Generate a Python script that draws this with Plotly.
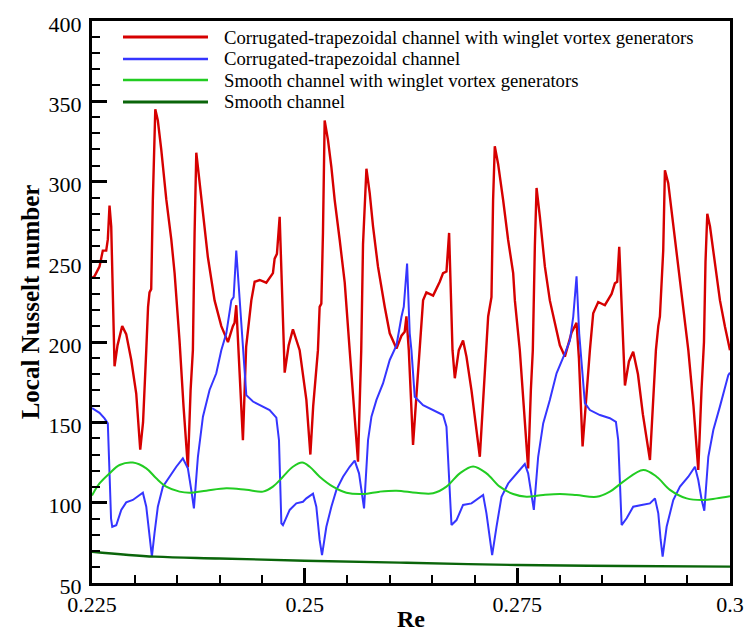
import plotly.graph_objects as go

# ---------------- data ----------------
series_names = [
    "Corrugated-trapezoidal channel with winglet vortex generators",
    "Corrugated-trapezoidal channel",
    "Smooth channel with winglet vortex generators",
    "Smooth channel",
]

re_corr_vg = [0.2250, 0.22529, 0.22588, 0.22627, 0.22667, 0.22686, 0.22706, 0.22726, 0.22765, 0.22800,
              0.22855, 0.22902, 0.22961, 0.23020, 0.23067, 0.23100, 0.23138, 0.23159, 0.23176, 0.23196,
              0.23215, 0.23244, 0.23274, 0.23314, 0.23373, 0.23432, 0.23471, 0.23529, 0.23576, 0.23627,
              0.23659, 0.23686, 0.23706, 0.23726, 0.23745, 0.23804, 0.23862, 0.23941, 0.24020, 0.24079,
              0.24098, 0.24156, 0.24176, 0.24196, 0.24224, 0.24274, 0.24312, 0.24373, 0.24412, 0.24471,
              0.24549, 0.24627, 0.24647, 0.24674, 0.24706, 0.24745, 0.24765, 0.24812, 0.24862, 0.24941,
              0.25020, 0.25067, 0.25100, 0.25156, 0.25176, 0.25196, 0.25215, 0.25235, 0.25274, 0.25314,
              0.25353, 0.25412, 0.25471, 0.25529, 0.25582, 0.25627, 0.25665, 0.25686, 0.25726, 0.25765,
              0.25804, 0.25862, 0.25941, 0.26000, 0.26079, 0.26138, 0.26176, 0.26196, 0.26224, 0.26274,
              0.26318, 0.26353, 0.26392, 0.26431, 0.26510, 0.26588, 0.26627, 0.26667, 0.26698, 0.26738,
              0.26765, 0.26812, 0.26862, 0.26902, 0.26961, 0.27020, 0.27059, 0.27094, 0.27129, 0.27157,
              0.27196, 0.27215, 0.27235, 0.27274, 0.27333, 0.27392, 0.27451, 0.27471, 0.27529, 0.27576,
              0.27627, 0.27659, 0.27682, 0.27706, 0.27726, 0.27765, 0.27824, 0.27882, 0.27961, 0.28000,
              0.28059, 0.28138, 0.28196, 0.28224, 0.28267, 0.28306, 0.28353, 0.28392, 0.28451, 0.28529,
              0.28608, 0.28647, 0.28674, 0.28698, 0.28745, 0.28765, 0.28812, 0.28862, 0.28918, 0.28976,
              0.29059, 0.29100, 0.29129, 0.29157, 0.29176, 0.29215, 0.29235, 0.29274, 0.29333, 0.29392,
              0.29451, 0.29510, 0.29571, 0.29627, 0.29665, 0.29694, 0.29712, 0.29733, 0.29765, 0.29824,
              0.29882, 0.29941, 0.29980, 0.30000]
nu_corr_vg = [240, 241, 247, 257, 257, 264, 285, 272, 185, 198,
              210, 205, 189, 168, 133, 150, 195, 222, 231, 233,
              288, 345, 338, 320, 289, 264, 243, 201, 160, 122,
              170, 195, 268, 318, 309, 282, 253, 226, 210, 202.5,
              200, 210, 212, 223, 195, 139, 197, 226, 237.6, 238.7,
              237, 243, 252, 255, 278, 214, 181, 198, 208, 195,
              164, 130, 160, 195, 222, 224, 268, 338, 326, 309,
              288.5, 263.6, 237, 195, 160, 125.5, 195, 261, 308, 292.6,
              272, 247, 222, 205.5, 196, 204, 206.5, 216, 195, 136,
              170, 195, 226, 231, 229, 237.6, 243, 244, 268, 195,
              177.5, 195, 201, 191, 170, 145, 128.6, 160, 195, 216,
              228, 288.5, 322, 311, 288.5, 263.6, 243, 226, 195, 160,
              121.4, 170, 195, 260, 296, 278, 247, 226, 207.5, 198,
              191, 206, 212, 190, 135, 165, 195, 218, 225, 223,
              230, 236.6, 237.6, 259.4, 195, 173, 188, 194, 180, 155,
              126.6, 165, 195, 210, 216, 257, 307, 299, 272, 247,
              222, 195, 160, 120.4, 170, 200, 250, 280, 272, 247,
              226, 209.6, 201, 195]

re_corr = [0.2250, 0.22588, 0.22647, 0.22686, 0.22706, 0.22724, 0.22738, 0.22785, 0.22844, 0.22902,
           0.22980, 0.23059, 0.23098, 0.23138, 0.23176, 0.23204, 0.23235, 0.23274, 0.23333, 0.23412,
           0.23491, 0.23568, 0.23627, 0.23667, 0.23698, 0.23745, 0.23804, 0.23882, 0.23961, 0.24020,
           0.24079, 0.24138, 0.24165, 0.24196, 0.24235, 0.24274, 0.24314, 0.24392, 0.24431, 0.24588,
           0.24667, 0.24698, 0.24726, 0.24745, 0.24824, 0.24902, 0.24980, 0.25020, 0.25098, 0.25137,
           0.25176, 0.25204, 0.25255, 0.25314, 0.25373, 0.25451, 0.25529, 0.25588, 0.25639, 0.25674,
           0.25698, 0.25745, 0.25785, 0.25844, 0.25921, 0.26000, 0.26079, 0.26138, 0.26165, 0.26204,
           0.26235, 0.26255, 0.26294, 0.26392, 0.26510, 0.26627, 0.26667, 0.26698, 0.26726, 0.26785,
           0.26862, 0.26961, 0.27039, 0.27098, 0.27137, 0.27176, 0.27204, 0.27255, 0.27314, 0.27392,
           0.27490, 0.27588, 0.27627, 0.27667, 0.27694, 0.27745, 0.27804, 0.27882, 0.27961, 0.28059,
           0.28118, 0.28157, 0.28196, 0.28227, 0.28244, 0.28294, 0.28353, 0.28471, 0.28588, 0.28659,
           0.28686, 0.28726, 0.28785, 0.28862, 0.28961, 0.29059, 0.29118, 0.29157, 0.29185, 0.29208,
           0.29255, 0.29333, 0.29412, 0.29510, 0.29588, 0.29627, 0.29667, 0.29698, 0.29745, 0.29804,
           0.29882, 0.29980, 0.30000]
nu_corr = [159, 156, 152.5, 149.4, 118.5, 90, 85, 86, 95.5, 100.2,
           101.7, 104.8, 106.2, 97.5, 81, 66.4, 81, 97.5, 110, 116.2,
           122.4, 127.6, 121.4, 108, 96.5, 128.6, 153.6, 170.2, 180.6, 195,
           205.5, 226, 228, 257, 226, 195, 167, 163, 161.9, 157.7,
           153, 139, 87.2, 86, 95.5, 99.6, 100.6, 102.7, 105.6, 97.5,
           76.8, 67.4, 85, 97.5, 108, 116.2, 122.4, 126.2, 118.3, 103.7,
           96.5, 139, 153.6, 164, 174.3, 188.9, 198, 215.8, 222, 249,
           205.5, 195, 166, 160.8, 157.7, 154.6, 147.3, 118.3, 86.1, 89.2,
           98.6, 99.6, 102.7, 104.8, 93.4, 76.8, 67.4, 85, 103.7, 112,
           118.3, 124.1, 118.3, 103.7, 95.5, 128.6, 149.4, 164, 180.6, 193,
           201, 215.8, 241, 205.5, 195, 162, 157.7, 154.6, 152.6, 150.4,
           139, 86.1, 90.3, 97.5, 98.6, 99.6, 102.7, 93.4, 76.8, 66.4,
           85, 101.7, 110, 116.2, 122.4, 114.1, 101.7, 95, 128.6, 145.3,
           160, 179.5, 181]

re_smooth_vg = [0.2250, 0.22588, 0.22706, 0.22824, 0.22980, 0.23138, 0.23255, 0.23373, 0.23529, 0.23647,
                0.23844, 0.24079, 0.24314, 0.24509, 0.24627, 0.24745, 0.24862, 0.24971, 0.25059, 0.25176,
                0.25333, 0.25491, 0.25686, 0.25882, 0.26079, 0.26314, 0.26510, 0.26667, 0.26824, 0.26980,
                0.27137, 0.27294, 0.27451, 0.27608, 0.27804, 0.28000, 0.28196, 0.28431, 0.28588, 0.28745,
                0.28980, 0.29137, 0.29294, 0.29490, 0.29686, 0.29843, 0.30000]
nu_smooth_vg = [104.5, 112, 118.3, 123.5, 125, 121.4, 115.2, 110, 106.9, 106.2,
                107.5, 109, 108, 106.9, 110, 116.2, 122.4, 125, 122.4, 116.2,
                110, 106.2, 105.4, 106.9, 107.5, 106.2, 105.9, 110, 118.3, 122.6,
                118.3, 110, 105.4, 103.7, 104.8, 105.4, 104.8, 103.7, 106.9, 113.1,
                120.4, 116.2, 108, 102.7, 101.7, 102.7, 104]

re_smooth = [0.2250, 0.2324, 0.2400, 0.2500, 0.2620, 0.2750, 0.2875, 0.3000]
nu_smooth = [69.5, 66.4, 65.3, 63.9, 62.6, 61.2, 60.6, 60.2]

x_tick_vals = [0.225, 0.25, 0.275, 0.3]
x_tick_labels = ["0.225", "0.25", "0.275", "0.3"]
y_tick_vals = [50, 100, 150, 200, 250, 300, 350, 400]
y_tick_labels = ["50", "100", "150", "200", "250", "300", "350", "400"]

colors = ["#d60000", "#3535ff", "#22cc22", "#0a650a"]
widths = [2.4, 2.0, 2.0, 2.4]

# ---------------- figure ----------------
serif = "Liberation Serif"

fig = go.Figure()
series = [(re_corr_vg, nu_corr_vg, "linear"), (re_corr, nu_corr, "linear"),
          (re_smooth_vg, nu_smooth_vg, "spline"), (re_smooth, nu_smooth, "spline")]
for (xs, ys, shp), name, c, w in zip(series, series_names, colors, widths):
    fig.add_trace(go.Scatter(x=xs, y=ys, mode="lines", name=name,
                             line=dict(color=c, width=w, shape=shp),
                             showlegend=False))

# manual legend (long line samples like the reference)
leg_y = [0.9715, 0.9324, 0.8950, 0.8559]
for name, c, w, yy in zip(series_names, colors, widths, leg_y):
    fig.add_shape(type="line", xref="paper", yref="paper",
                  x0=0.0486, x1=0.1818, y0=yy, y1=yy,
                  line=dict(color=c, width=w + 0.4))
    fig.add_annotation(xref="paper", yref="paper", x=0.2038, y=yy,
                       xanchor="left", yanchor="middle", showarrow=False,
                       text=name, font=dict(family=serif, size=18.7, color="black"))

def axis_common():
    return dict(
        showline=True, linecolor="black", linewidth=3, mirror=True,
        ticks="inside", tickcolor="black", tickwidth=3, ticklen=15,
        showgrid=False, zeroline=False, automargin=False,
        tickfont=dict(family=serif, size=22, color="black"),
    )

fig.update_xaxes(
    range=[0.225, 0.3], tickvals=x_tick_vals, ticktext=x_tick_labels,
    minor=dict(dtick=0.005, tick0=0.225, ticks="inside", ticklen=8, tickwidth=1.5,
               tickcolor="black", showgrid=False),
    title=dict(text="<b>Re</b>", font=dict(family=serif, size=24, color="black"), standoff=13),
    ticklabelstandoff=0,
    **axis_common(),
)
fig.update_yaxes(
    range=[50, 400], tickvals=y_tick_vals, ticktext=y_tick_labels,
    minor=dict(dtick=10, tick0=50, ticks="inside", ticklen=8, tickwidth=1.5,
               tickcolor="black", showgrid=False),
    title=dict(text="<b>Local Nusselt number</b>", font=dict(family=serif, size=25, color="black"),
               standoff=2),
    ticklabelstandoff=3,
    ticklabelshift=3,
    **axis_common(),
)

fig.update_layout(
    width=745, height=632,
    margin=dict(l=92, r=15, t=21, b=49),
    font=dict(family=serif, color="black"),
    paper_bgcolor="white", plot_bgcolor="white",
    showlegend=False,
)

fig.write_html("out.html")
